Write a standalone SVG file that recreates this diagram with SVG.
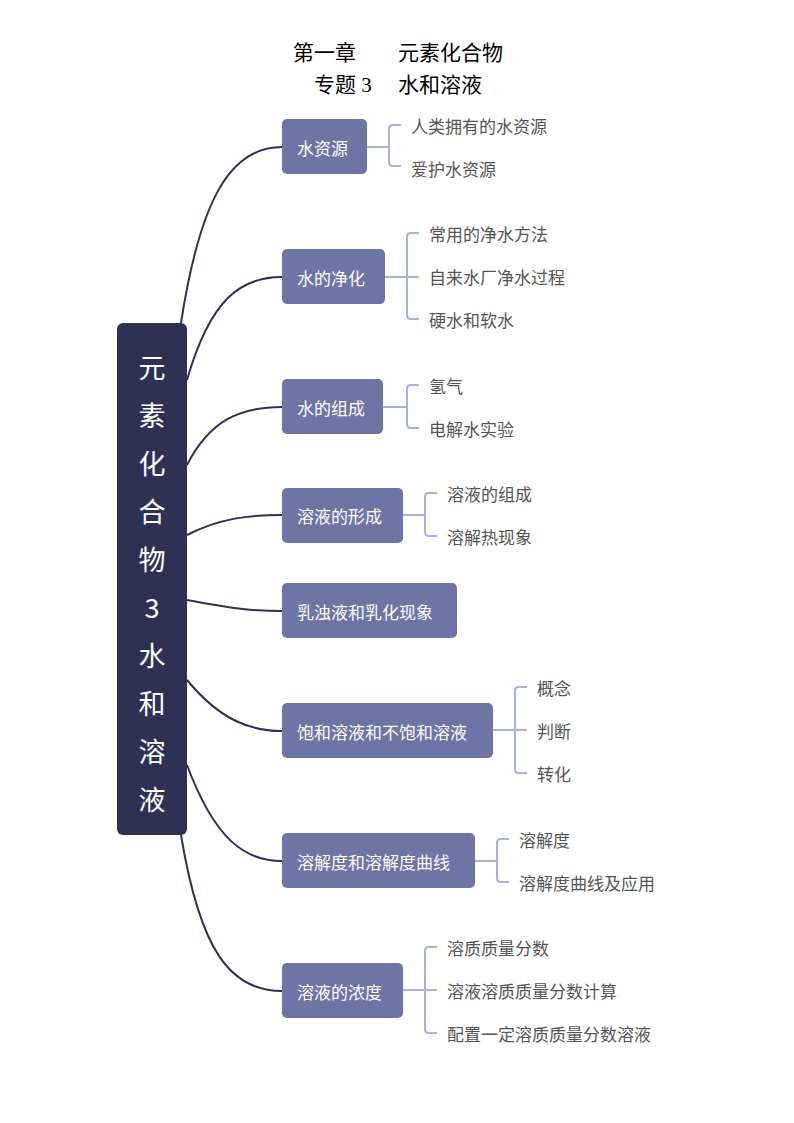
<svg xmlns="http://www.w3.org/2000/svg" width="794" height="1123" viewBox="0 0 794 1123">
<style>
.t{font-family:"Liberation Serif","Noto Sans CJK SC",serif;font-size:21px;fill:#000;text-anchor:middle}
.b rect{fill:#6e74a3}
.b text.n{font-family:"Noto Sans CJK SC",sans-serif;font-size:17px;fill:#fff;dominant-baseline:central}
.b text.l{font-family:"Noto Sans CJK SC",sans-serif;font-size:17px;fill:#555;dominant-baseline:central}
.c path{fill:none;stroke:#2d3154;stroke-width:2}
.k{fill:none;stroke:#a9afde;stroke-width:2}
.r text{font-family:"Noto Sans CJK SC",sans-serif;font-size:27px;fill:#fff;text-anchor:middle;dominant-baseline:central}
</style>
<rect width="794" height="1123" fill="#fff"/>
<text class="t" x="398" y="60">第一章　　元素化合物</text>
<text class="t" x="398" y="92">专题 3　 水和溶液</text>
<g class="c" id="connectors">
<path d="M181 323 C200 200,230 147,282 147"/>
<path d="M187 380 C210 300,240 277,282 277"/>
<path d="M187 465 C210 420,240 407,282 407"/>
<path d="M187 535 C220 518,250 515,282 515"/>
<path d="M187 600 C230 608,250 611,282 611"/>
<path d="M187 680 C220 720,250 731,282 731"/>
<path d="M187 765 C215 840,245 861,282 861"/>
<path d="M181 835 C200 950,230 991,282 991"/>
</g>
<g class="r" id="root">
<rect x="117" y="323" width="70" height="512" rx="6" fill="#2d3154"/>
<text x="152" y="366">元</text><text x="152" y="414">素</text><text x="152" y="462">化</text><text x="152" y="510">合</text><text x="152" y="558">物</text><text x="152" y="606">3</text><text x="152" y="654">水</text><text x="152" y="702">和</text><text x="152" y="750">溶</text><text x="152" y="798">液</text>
</g>
<g class="b" id="n1"><rect x="282" y="119" width="85" height="55" rx="5"/><text class="n" x="297" y="147">水资源</text>
<path class="k" d="M367 147H389M401 125H393Q389 125 389 129V162Q389 166 393 166H401"/>
<text class="l" x="411" y="125">人类拥有的水资源</text><text class="l" x="411" y="168">爱护水资源</text></g>
<g class="b" id="n2"><rect x="282" y="249" width="103" height="55" rx="5"/><text class="n" x="297" y="277">水的净化</text>
<path class="k" d="M385 277H419M419 233H411Q407 233 407 237V315Q407 319 411 319H419"/>
<text class="l" x="429" y="233">常用的净水方法</text><text class="l" x="429" y="276">自来水厂净水过程</text><text class="l" x="429" y="319">硬水和软水</text></g>
<g class="b" id="n3"><rect x="282" y="379" width="101" height="55" rx="5"/><text class="n" x="297" y="407">水的组成</text>
<path class="k" d="M383 407H407M419 385H411Q407 385 407 389V424Q407 428 411 428H419"/>
<text class="l" x="429" y="385">氢气</text><text class="l" x="429" y="428">电解水实验</text></g>
<g class="b" id="n4"><rect x="282" y="488" width="121" height="55" rx="5"/><text class="n" x="297" y="515">溶液的形成</text>
<path class="k" d="M403 515H425M437 493H429Q425 493 425 497V532Q425 536 429 536H437"/>
<text class="l" x="447" y="493">溶液的组成</text><text class="l" x="447" y="536">溶解热现象</text></g>
<g class="b" id="n5"><rect x="282" y="583" width="175" height="55" rx="5"/><text class="n" x="297" y="611">乳浊液和乳化现象</text></g>
<g class="b" id="n6"><rect x="282" y="703" width="211" height="55" rx="5"/><text class="n" x="297" y="731">饱和溶液和不饱和溶液</text>
<path class="k" d="M493 730H527M527 687H519Q515 687 515 691V769Q515 773 519 773H527"/>
<text class="l" x="537" y="687">概念</text><text class="l" x="537" y="730">判断</text><text class="l" x="537" y="773">转化</text></g>
<g class="b" id="n7"><rect x="282" y="833" width="193" height="55" rx="5"/><text class="n" x="297" y="861">溶解度和溶解度曲线</text>
<path class="k" d="M475 861H497M509 839H501Q497 839 497 843V878Q497 882 501 882H509"/>
<text class="l" x="519" y="839">溶解度</text><text class="l" x="519" y="882">溶解度曲线及应用</text></g>
<g class="b" id="n8"><rect x="282" y="963" width="121" height="55" rx="5"/><text class="n" x="297" y="991">溶液的浓度</text>
<path class="k" d="M403 990H437M437 947H429Q425 947 425 951V1029Q425 1033 429 1033H437"/>
<text class="l" x="447" y="947">溶质质量分数</text><text class="l" x="447" y="990">溶液溶质质量分数计算</text><text class="l" x="447" y="1033">配置一定溶质质量分数溶液</text></g>
</svg>
